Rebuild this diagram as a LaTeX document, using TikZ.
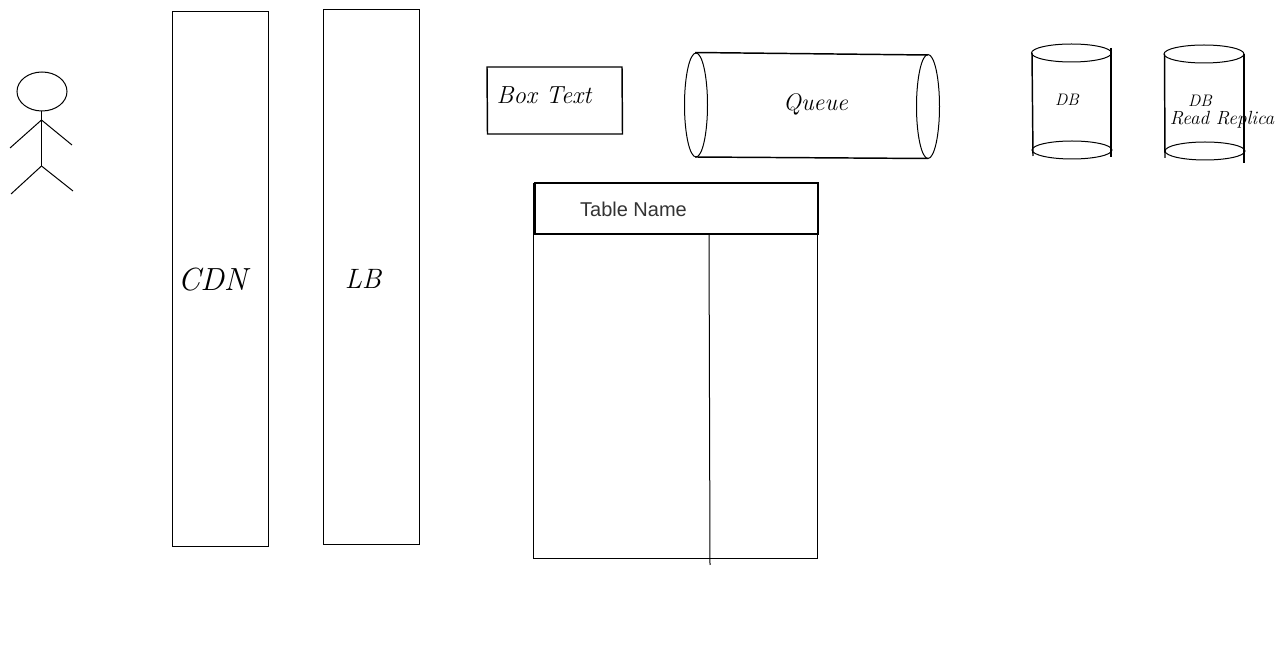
\documentclass[tikz,border=0pt]{standalone}
\usepackage{fontspec}
\newfontfamily\tablefont{Liberation Sans}
\tikzset{every picture/.style={line width=0.75pt}}
\tikzset{
  sketch/.style={font=\itshape\fontsize{#1}{#1}\selectfont,inner sep=0pt},
  thick sketch/.style={line width=1.1pt},
}

\begin{document}
\begin{tikzpicture}[x=0.75pt,y=0.75pt,yscale=-1,xscale=1]
	\useasboundingbox (0,0) rectangle (1283,648);
	
	%Shape: Stick figure
	\draw (42,91.5) ellipse (25 and 19.5);
	\draw (41.5,111) -- (41.5,166);
	\draw (41.5,120) -- (10,148);
	\draw (41.5,120) -- (72,145);
	\draw (41.5,166) -- (11,194);
	\draw (41.5,166) -- (73,191);
	
	%Shape: Rectangle
	\draw (172.5,12) -- (268.5,12) -- (268.5,547) -- (172.5,547) -- cycle ;
	%Shape: Rectangle
	\draw (323.5,10) -- (419.5,10) -- (419.5,545) -- (323.5,545) -- cycle ;
	%Shape: Rectangle
	\draw [thick sketch] (487,67) -- (622,67) -- (622.5,134) -- (487.5,134) -- cycle ;
	
	%Shape: Queue cylinder
	\draw (696,105) ellipse (11.5 and 52);
	\draw (928,106.5) ellipse (11.5 and 52);
	\draw [thick sketch] (695,52.5) -- (928,55) ;
	\draw [thick sketch] (695,157) -- (928,158.5) ;
	
	%Shape: Table
	\draw (533.5,183) -- (533.5,559) -- (817.5,559) -- (817.5,183) ;
	\draw [thick sketch] (535,183) -- (818,183) -- (818,234) -- (535,234) -- cycle ;
	\draw (709,234) -- (710,565) ;
	
	%Shape: DB cylinder
	\draw (1071.5,53) ellipse (40 and 9);
	\draw (1072,150) ellipse (40 and 9);
	\draw [thick sketch] (1032,53) -- (1033,156) ;
	\draw [thick sketch] (1111,48) -- (1111,157) ;
	
	%Shape: DB cylinder
	\draw (1204,54) ellipse (40 and 9);
	\draw (1205,151) ellipse (40 and 9);
	\draw [thick sketch] (1164.5,54) -- (1165,158) ;
	\draw [thick sketch] (1244,54) -- (1244,163) ;
	
	% Text Node
	\node [sketch=24] (cdn) at (212.5,280) {CDN};
	% Text Node
	\node [sketch=21] (lb) at (363,279) {LB};
	% Text Node
	\node [sketch=18.5] (boxtext) at (544,95) {Box Text};
	% Text Node
	\node [sketch=18] (queue) at (815.5,104) {Queue};
	% Text Node
	\node [sketch=12.5] (db) at (1067,100) {DB};
	% Text Node
	\node [sketch=12.5] (replicadb) at (1200,101) {DB};
	% Text Node
	\node [sketch=14.3] (replica) at (1222,120) {Read Replica};
	% Text Node
	\node [font=\tablefont\fontsize{15}{15}\selectfont,text=black!80,inner sep=0pt] (tablename) at (633.5,209) {Table Name};
\end{tikzpicture}
\end{document}
